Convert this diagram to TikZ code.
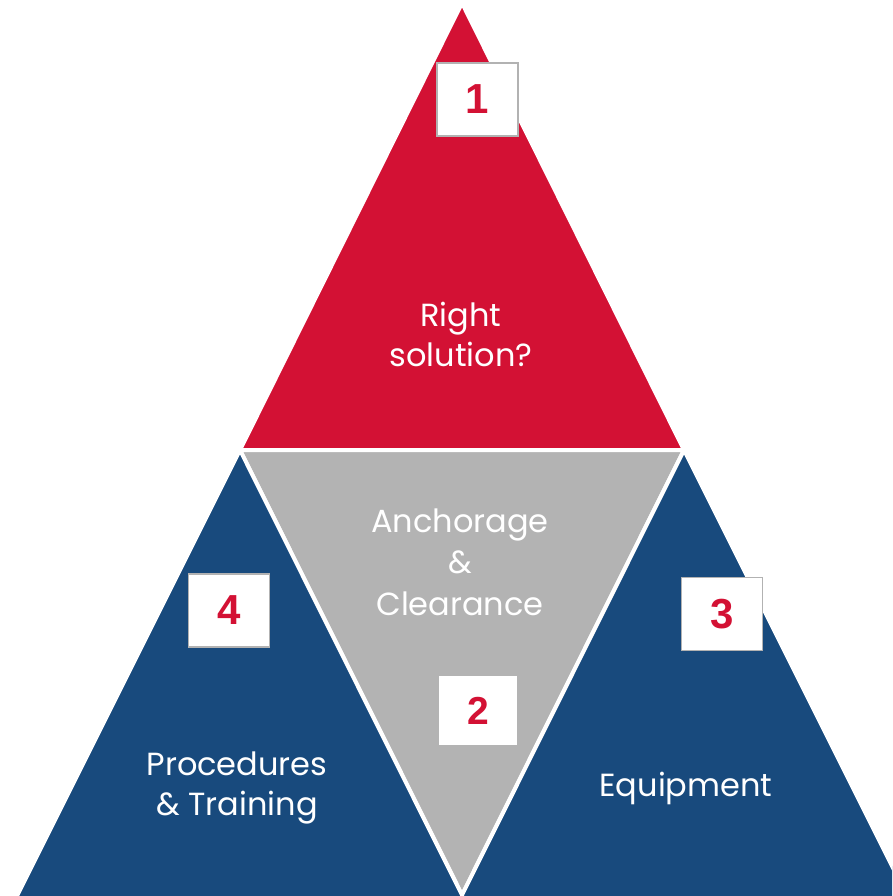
\documentclass[tikz,border=0pt]{standalone}
\usepackage{fontspec}
\setmainfont{Poppins}
\newfontfamily\numfont{Liberation Sans}
\definecolor{pred}{RGB}{211,17,52}
\definecolor{pblue}{RGB}{24,74,125}
\definecolor{pgray}{RGB}{179,179,179}
\definecolor{bordergray}{RGB}{178,178,178}
\tikzset{
  tri/.style={draw=white, line width=4pt, line join=miter},
  numbox/.style={fill=white, draw=bordergray, line width=1.6pt, inner sep=0pt,
    minimum width=81pt, minimum height=73pt,
    text=pred, font=\numfont\bfseries\fontsize{42}{42}\selectfont},
  label/.style={text=white, align=center, inner sep=0pt,
    font=\fontsize{32}{40}\selectfont}
}
\begin{document}
\begin{tikzpicture}[x=1pt,y=-1pt]
\useasboundingbox (0,0) rectangle (892,896);
\clip (0,0) rectangle (892,896);
\fill[white] (0,0) rectangle (892,896);
\coordinate (A) at (240,450);
\coordinate (B) at (684,450);
\coordinate (C) at (462,895);
\coordinate (Cb) at (462,915);
\coordinate (T) at (462,3);
\coordinate (L) at (7.5,915);
\coordinate (R) at (916.5,915);
\filldraw[tri, fill=pred] (T) -- (A) -- (B) -- cycle;
\filldraw[tri, fill=pgray] (A) -- (B) -- (C) -- cycle;
\filldraw[tri, fill=pblue] (A) -- (C) -- (Cb) -- (L) -- cycle;
\filldraw[tri, fill=pblue] (B) -- (R) -- (Cb) -- (C) -- cycle;
\node[numbox] (n1) at (477.5,99.5) {1};
\node[numbox, draw=none, minimum width=78pt, minimum height=69pt, font=\numfont\bfseries\fontsize{39}{39}\selectfont] (n2) at (478,710.5) {2};
\node[numbox] (n3) at (722,614) {3};
\node[numbox] (n4) at (229,610.5) {4};
\node[label, anchor=base] (t1) at (461,366) {Right\\solution?};
\node[label, anchor=base, font=\fontsize{32}{41.5}\selectfont] (t2) at (460,615) {Anchorage\\\&\\Clearance};
\node[label, anchor=base] (t3) at (237,815) {Procedures\\\& Training};
\node[label, anchor=base] (t4) at (686,796) {Equipment};
\end{tikzpicture}
\end{document}
